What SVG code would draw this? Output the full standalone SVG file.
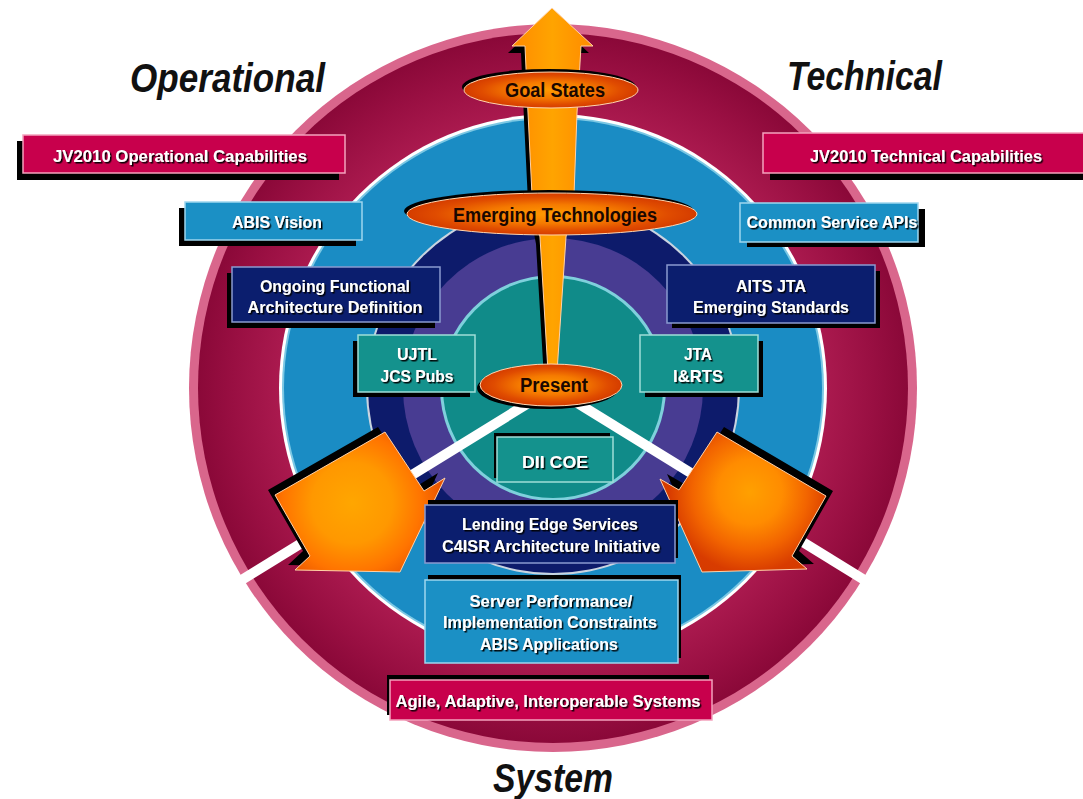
<svg xmlns="http://www.w3.org/2000/svg" width="1083" height="799" viewBox="0 0 1083 799">
  <style>
    .title { font-family: "Liberation Sans", Arial, sans-serif; font-weight: bold; font-style: italic; font-size: 41px; fill: #111; }
    .lbl { font-family: "Liberation Sans", Arial, sans-serif; font-weight: bold; font-size: 17px; fill: #fff; text-anchor: middle; filter: url(#txtShadow); }
    .elbl { font-family: "Liberation Sans", Arial, sans-serif; font-weight: bold; font-size: 20px; fill: #1a0700; text-anchor: middle; }
    .shadow { fill: #000; }
    .crimsonBox { fill: #c8004c; stroke: #f3a3bd; stroke-width: 1.5; }
    .blueBox { fill: #1b90c5; stroke: #9fd6ee; stroke-width: 1.5; }
    .navyBox { fill: #0b1e6e; stroke: #8a9ad0; stroke-width: 1.5; }
    .tealBox { fill: #14928d; stroke: #9fded8; stroke-width: 1.5; }
    .oval { stroke: #ffd6b0; stroke-width: 1; }
    .spoke { stroke: #fff; stroke-width: 10; }
  </style>
  <defs>
    <filter id="txtShadow" x="-10%" y="-30%" width="130%" height="160%">
      <feDropShadow dx="1.5" dy="1.5" stdDeviation="0.3" flood-color="#000" flood-opacity="0.95"/>
    </filter>
    <radialGradient id="crimsonRing" cx="553" cy="388" r="356" gradientUnits="userSpaceOnUse">
      <stop offset="0.76" stop-color="#ab1a4f"/>
      <stop offset="0.9" stop-color="#990f42"/>
      <stop offset="1" stop-color="#8a0838"/>
    </radialGradient>
    <radialGradient id="ovalFill" cx="0.5" cy="0.5" r="0.5">
      <stop offset="0" stop-color="#ff9a00"/>
      <stop offset="0.45" stop-color="#f57a00"/>
      <stop offset="0.8" stop-color="#e04c00"/>
      <stop offset="1" stop-color="#d43c00"/>
    </radialGradient>
    <linearGradient id="shaftFill" x1="0" y1="0" x2="1" y2="0">
      <stop offset="0" stop-color="#ff8a00"/>
      <stop offset="0.5" stop-color="#ffa400"/>
      <stop offset="1" stop-color="#ff8a00"/>
    </linearGradient>
    <radialGradient id="leftBurst" cx="352" cy="503" r="115" gradientUnits="userSpaceOnUse">
      <stop offset="0" stop-color="#ffa600"/>
      <stop offset="0.35" stop-color="#ff9800"/>
      <stop offset="0.6" stop-color="#ff7400"/>
      <stop offset="0.85" stop-color="#e44a00"/>
      <stop offset="1" stop-color="#d43a00"/>
    </radialGradient>
    <radialGradient id="rightBurst" cx="750" cy="492" r="115" gradientUnits="userSpaceOnUse">
      <stop offset="0" stop-color="#ffa000"/>
      <stop offset="0.28" stop-color="#ff8c00"/>
      <stop offset="0.5" stop-color="#f26400"/>
      <stop offset="0.7" stop-color="#d83c00"/>
      <stop offset="1" stop-color="#d03800"/>
    </radialGradient>
  </defs>

  <rect width="1083" height="799" fill="#fff"/>

  <!-- concentric rings -->
  <g id="rings">
    <circle cx="553" cy="388" r="364" fill="#d9668c"/>
    <circle cx="553" cy="388" r="355" fill="url(#crimsonRing)"/>
    <circle cx="553" cy="388" r="274" fill="#ffffff"/>
    <circle cx="553" cy="388" r="271" fill="#7cc8e4"/>
    <circle cx="553" cy="388" r="269" fill="#1a8cc4"/>
    <circle cx="553" cy="388" r="187" fill="#c9d4e0"/>
    <circle cx="553" cy="388" r="185" fill="#0d1b6b"/>
    <circle cx="553" cy="388" r="150" fill="#483c92"/>
    <circle cx="553" cy="388" r="113" fill="#7fd0dc"/>
    <circle cx="553" cy="388" r="110" fill="#108b89"/>
  </g>

  <!-- white dividers between the three sectors -->
  <g id="dividers">
    <line class="spoke" x1="553" y1="388" x2="240" y2="581"/>
    <line class="spoke" x1="553" y1="388" x2="866" y2="581"/>
  </g>

  <!-- block arrows -->
  <g id="connectors">
    <g id="arrow-left">
      <polygon class="shadow" transform="translate(-7,-5)" points="275,495 385,432 424,491 445,478 400,572 295,570 310,556"/>
      <polygon fill="url(#leftBurst)" stroke="#ffd2a8" stroke-width="1" points="275,495 385,432 424,491 445,478 400,572 295,570 310,556"/>
    </g>
    <g id="arrow-right">
      <polygon class="shadow" transform="translate(7,-5)" points="826,496 717,432 679,490 660,479 702,572 807,569 792,556"/>
      <polygon fill="url(#rightBurst)" stroke="#ffd2a8" stroke-width="1" points="826,496 717,432 679,490 660,479 702,572 807,569 792,556"/>
    </g>
    <g id="arrow-up">
      <polygon class="shadow" transform="translate(-4,7)" points="552,8 593,46 581,46 577,113 574,195 566,237 557,372 548,372 540,237 532,195 528,113 525,46 512,46"/>
      <polygon fill="url(#shaftFill)" stroke="#ffd2a8" stroke-width="1" points="552,8 593,46 581,46 577,113 574,195 566,237 557,372 548,372 540,237 532,195 528,113 525,46 512,46"/>
    </g>
  </g>

  <!-- ovals along the upward arrow -->
  <g id="goal-states">
    <ellipse class="shadow" cx="549" cy="87" rx="87" ry="18"/>
    <ellipse class="oval" fill="url(#ovalFill)" cx="551" cy="90" rx="87" ry="18"/>
    <text class="elbl" x="555" y="97" textLength="100" lengthAdjust="spacingAndGlyphs">Goal States</text>
  </g>
  <g id="emerging-technologies">
    <ellipse class="shadow" cx="549" cy="211" rx="145" ry="21"/>
    <ellipse class="oval" fill="url(#ovalFill)" cx="552" cy="214" rx="145" ry="21"/>
    <text class="elbl" x="555" y="222" textLength="204" lengthAdjust="spacingAndGlyphs">Emerging Technologies</text>
  </g>
  <g id="present">
    <ellipse class="shadow" cx="548" cy="388" rx="71" ry="21"/>
    <ellipse class="oval" fill="url(#ovalFill)" cx="551" cy="385" rx="71" ry="21"/>
    <text class="elbl" x="554" y="392" font-size="19" textLength="68" lengthAdjust="spacingAndGlyphs">Present</text>
  </g>

  <!-- sector titles -->
  <g id="title-operational">
    <text class="title" x="130" y="92" textLength="195" lengthAdjust="spacingAndGlyphs">Operational</text>
  </g>
  <g id="title-technical">
    <text class="title" x="787" y="90" textLength="155" lengthAdjust="spacingAndGlyphs">Technical</text>
  </g>
  <g id="title-system">
    <text class="title" x="493" y="792" font-size="39" textLength="120" lengthAdjust="spacingAndGlyphs">System</text>
  </g>

  <!-- operational side -->
  <g id="jv2010-operational">
    <rect class="shadow" x="17" y="141" width="322" height="39"/>
    <rect class="crimsonBox" x="23" y="135" width="322" height="38"/>
    <text class="lbl" x="180" y="162" font-size="18" textLength="254" lengthAdjust="spacingAndGlyphs">JV2010 Operational Capabilities</text>
  </g>
  <g id="abis-vision">
    <rect class="shadow" x="179" y="208" width="177" height="38"/>
    <rect class="blueBox" x="185" y="202" width="177" height="38"/>
    <text class="lbl" x="277" y="228" font-size="18" textLength="90" lengthAdjust="spacingAndGlyphs">ABIS Vision</text>
  </g>
  <g id="ongoing-functional">
    <rect class="shadow" x="227" y="273" width="208" height="55"/>
    <rect class="navyBox" x="232" y="267" width="208" height="55"/>
    <text class="lbl" x="335" y="292" textLength="150" lengthAdjust="spacingAndGlyphs">Ongoing Functional</text>
    <text class="lbl" x="335" y="313" textLength="175" lengthAdjust="spacingAndGlyphs">Architecture Definition</text>
  </g>
  <g id="ujtl">
    <rect class="shadow" x="353" y="341" width="117" height="56"/>
    <rect class="tealBox" x="358" y="335" width="117" height="57"/>
    <text class="lbl" x="417" y="360" textLength="40" lengthAdjust="spacingAndGlyphs">UJTL</text>
    <text class="lbl" x="417" y="382" textLength="73" lengthAdjust="spacingAndGlyphs">JCS Pubs</text>
  </g>

  <!-- technical side -->
  <g id="jv2010-technical">
    <rect class="shadow" x="770" y="141" width="320" height="39"/>
    <rect class="crimsonBox" x="763" y="133" width="325" height="40"/>
    <text class="lbl" x="926" y="162" font-size="18" textLength="232" lengthAdjust="spacingAndGlyphs">JV2010 Technical Capabilities</text>
  </g>
  <g id="common-service-apis">
    <rect class="shadow" x="747" y="209" width="178" height="38"/>
    <rect class="blueBox" x="740" y="203" width="178" height="39"/>
    <text class="lbl" x="832" y="228" font-size="18" textLength="171" lengthAdjust="spacingAndGlyphs">Common Service APIs</text>
  </g>
  <g id="aits-jta">
    <rect class="shadow" x="672" y="271" width="208" height="57"/>
    <rect class="navyBox" x="667" y="265" width="208" height="58"/>
    <text class="lbl" x="771" y="292" textLength="70" lengthAdjust="spacingAndGlyphs">AITS JTA</text>
    <text class="lbl" x="771" y="313" textLength="156" lengthAdjust="spacingAndGlyphs">Emerging Standards</text>
  </g>
  <g id="jta-irts">
    <rect class="shadow" x="645" y="341" width="118" height="56"/>
    <rect class="tealBox" x="640" y="335" width="118" height="57"/>
    <text class="lbl" x="698" y="360" textLength="28" lengthAdjust="spacingAndGlyphs">JTA</text>
    <text class="lbl" x="698" y="382" textLength="50" lengthAdjust="spacingAndGlyphs">I&amp;RTS</text>
  </g>

  <!-- system side -->
  <g id="dii-coe">
    <rect class="shadow" x="494" y="433" width="116" height="45"/>
    <rect class="tealBox" x="497" y="437" width="116" height="45"/>
    <text class="lbl" x="555" y="468" font-size="18" textLength="66" lengthAdjust="spacingAndGlyphs">DII COE</text>
  </g>
  <g id="leading-edge">
    <rect class="shadow" x="428" y="500" width="250" height="58"/>
    <rect class="navyBox" x="425" y="505" width="250" height="58"/>
    <text class="lbl" x="550" y="530" textLength="176" lengthAdjust="spacingAndGlyphs">Lending Edge Services</text>
    <text class="lbl" x="551" y="552" textLength="218" lengthAdjust="spacingAndGlyphs">C4ISR Architecture Initiative</text>
  </g>
  <g id="server-performance">
    <rect class="shadow" x="428" y="575" width="253" height="83"/>
    <rect class="blueBox" x="425" y="580" width="253" height="83"/>
    <text class="lbl" x="551" y="607" textLength="163" lengthAdjust="spacingAndGlyphs">Server Performance/</text>
    <text class="lbl" x="550" y="628" textLength="214" lengthAdjust="spacingAndGlyphs">Implementation Constraints</text>
    <text class="lbl" x="549" y="650" textLength="138" lengthAdjust="spacingAndGlyphs">ABIS Applications</text>
  </g>
  <g id="agile-systems">
    <rect class="shadow" x="387" y="675" width="322" height="40"/>
    <rect class="crimsonBox" x="390" y="680" width="322" height="40"/>
    <text class="lbl" x="548" y="707" font-size="18" textLength="305" lengthAdjust="spacingAndGlyphs">Agile, Adaptive, Interoperable Systems</text>
  </g>
</svg>
